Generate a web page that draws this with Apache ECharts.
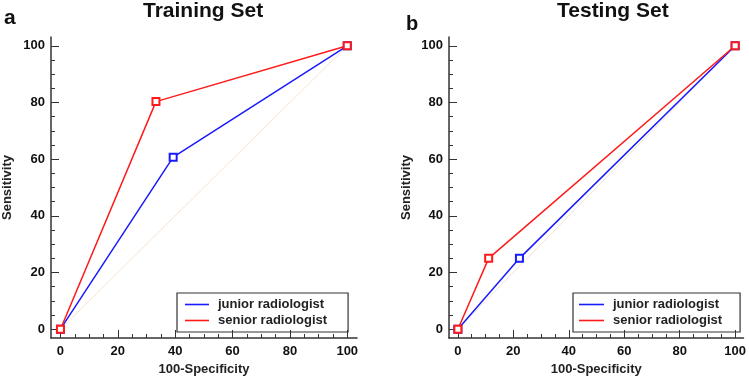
<!DOCTYPE html>
<html>
<head>
<meta charset="utf-8">
<script src="https://cdn.jsdelivr.net/npm/echarts@6/dist/echarts.min.js"></script>
<style>
  html, body { margin: 0; padding: 0; background: #fff; }
  #chart { width: 749px; height: 381px; }
</style>
</head>
<body>
<div id="chart"></div>
<script>
// values
const majorTicks = [0, 20, 40, 60, 80, 100];
const minorTicks = [5, 10, 15, 25, 30, 35, 45, 50, 55, 65, 70, 75, 85, 90, 95];
const chanceLine = [[0, 0], [100, 100]];

const trainJunior = [[0, 0], [39.3, 60.7], [100, 100]];
const trainSenior = [[0, 0], [33.3, 80.3], [100, 100]];
const testJunior = [[0, 0], [22.2, 25], [100, 100]];
const testSenior = [[0, 0], [11.1, 25], [100, 100]];

const names = ['junior radiologist', 'senior radiologist'];

const RED = '#ff1a1a';
const BLUE = '#1a1aff';
const AXIS = '#333';
const FONT = 'Liberation Sans, Arial, sans-serif';

const chart = echarts.init(document.getElementById('chart'), null, { renderer: 'canvas' });

// one main axis (labels + long ticks) and one hidden-line axis for short ticks
function xAxes(grid, min, max) {
  return [
    {
      type: 'value', gridIndex: grid, min: min, max: max,
      name: '100-Specificity', nameLocation: 'middle', nameGap: 25,
      nameTextStyle: { fontSize: 13, fontWeight: 'bold', color: '#222', fontFamily: FONT },
      axisLine: { show: true, onZero: false, lineStyle: { color: AXIS, width: 1.5 } },
      axisTick: { show: true, inside: true, length: 8, customValues: majorTicks, lineStyle: { color: AXIS, width: 1 } },
      axisLabel: { customValues: majorTicks, margin: 7, fontSize: 13, fontWeight: 'bold', color: '#111', fontFamily: FONT },
      splitLine: { show: false }
    },
    {
      type: 'value', gridIndex: grid, min: min, max: max, position: 'bottom',
      axisLine: { show: false, onZero: false },
      axisTick: { show: true, inside: true, length: 4, customValues: minorTicks, lineStyle: { color: AXIS, width: 1 } },
      axisLabel: { show: false },
      splitLine: { show: false }
    }
  ];
}

function yAxes(grid, gap) {
  return [
    {
      type: 'value', gridIndex: grid, min: -3.1, max: 103.1,
      name: 'Sensitivity', nameLocation: 'middle', nameGap: gap,
      nameTextStyle: { fontSize: 13, fontWeight: 'bold', color: '#222', fontFamily: FONT },
      axisLine: { show: true, onZero: false, lineStyle: { color: AXIS, width: 1.5 } },
      axisTick: { show: true, inside: true, length: 8, customValues: majorTicks, lineStyle: { color: AXIS, width: 1 } },
      axisLabel: { customValues: majorTicks, margin: 6, fontSize: 13, fontWeight: 'bold', color: '#111', fontFamily: FONT },
      splitLine: { show: false }
    },
    {
      type: 'value', gridIndex: grid, min: -3.1, max: 103.1, position: 'left',
      axisLine: { show: false, onZero: false },
      axisTick: { show: true, inside: true, length: 4, customValues: minorTicks, lineStyle: { color: AXIS, width: 1 } },
      axisLabel: { show: false },
      splitLine: { show: false }
    }
  ];
}

function rocSeries(name, data, color, idx) {
  return {
    name: name, type: 'line', data: data,
    xAxisIndex: idx, yAxisIndex: idx,
    symbol: 'emptyRect', symbolSize: 7,
    lineStyle: { color: color, width: 1.5 },
    itemStyle: { color: color, borderWidth: 1.1 },
    animation: false, silent: true
  };
}

function diagSeries(idx) {
  return {
    name: 'chance', type: 'line', data: chanceLine,
    xAxisIndex: idx, yAxisIndex: idx,
    symbol: 'none',
    lineStyle: { color: '#f7e4d2', width: 1 },
    animation: false, silent: true
  };
}

function legendAt(left, pad, iw) {
  return {
    left: left, top: 293, orient: 'vertical', data: names,
    icon: 'rect', itemWidth: iw, itemHeight: 1.6, itemGap: 3,
    padding: pad, borderColor: '#333', borderWidth: 1.2, borderRadius: 0,
    selectedMode: false,
    itemStyle: { borderWidth: 0 },
    textStyle: { fontSize: 13, fontWeight: 'bold', color: '#222', fontFamily: FONT, padding: [0, 0, 0, 4] }
  };
}

const option = {
  backgroundColor: '#fff',
  animation: false,
  title: [
    { text: 'Training Set', left: 138, top: -4, textStyle: { fontSize: 21, fontWeight: 'bold', color: '#111', fontFamily: FONT } },
    { text: 'Testing Set', left: 552, top: -4, textStyle: { fontSize: 21, fontWeight: 'bold', color: '#111', fontFamily: FONT } },
    { text: 'a', left: -1, top: 3, textStyle: { fontSize: 21, fontWeight: 'bold', color: '#111', fontFamily: FONT } },
    { text: 'b', left: 401, top: 9, textStyle: { fontSize: 20, fontWeight: 'bold', color: '#111', fontFamily: FONT } }
  ],
  legend: [
    legendAt(177, [5, 21, 5, 8], 24),
    legendAt(573, [5, 18, 5, 6], 25)
  ],
  grid: [
    { left: 51, top: 37, width: 306, height: 304 },
    { left: 449, top: 37, width: 298, height: 304 }
  ],
  xAxis: [].concat(xAxes(0, -3.3, 103.4), xAxes(1, -3.2, 103)),
  yAxis: [].concat(yAxes(0, 37), yAxes(1, 36)),
  series: [
    diagSeries(0),
    rocSeries(names[0], trainJunior, BLUE, 0),
    rocSeries(names[1], trainSenior, RED, 0),
    diagSeries(2),
    rocSeries(names[0], testJunior, BLUE, 2),
    rocSeries(names[1], testSenior, RED, 2)
  ]
};

chart.setOption(option);
</script>
</body>
</html>
